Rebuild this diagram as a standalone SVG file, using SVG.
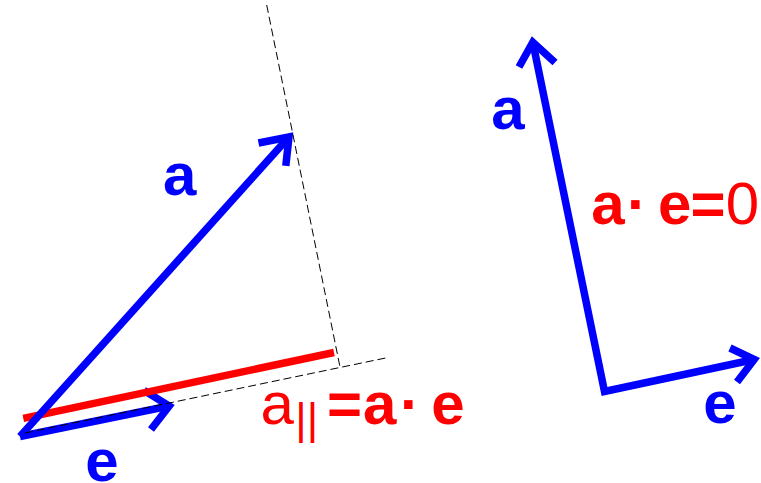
<svg xmlns="http://www.w3.org/2000/svg" width="761" height="483" viewBox="0 0 761 483">
  <style>
    .vec { fill: none; stroke: #0000FF; stroke-width: 7.5; stroke-linecap: butt; stroke-linejoin: miter; }
    .proj { fill: none; stroke: #FF0000; stroke-width: 7.5; stroke-linecap: butt; }
    .guide { fill: none; stroke: #000000; stroke-width: 1; stroke-dasharray: 8 4; }
    .lbl { font-family: "Liberation Sans", Arial, sans-serif; font-size: 60px; }
    .blue { fill: #0000FF; font-weight: bold; }
    .red { fill: #FF0000; }
    .b { font-weight: bold; }
  </style>
  <rect width="761" height="483" fill="#FFFFFF"/>

  <!-- Left figure -->
  <g id="left-e">
    <path class="vec" d="M20,436.5 L169.2,406"/>
    <polyline class="vec" points="143.9,390.4 169.2,406 151,429.5"/>
  </g>
  <g id="left-projection">
    <path class="proj" d="M23.3,418.3 L334,352.5"/>
  </g>
  <g id="left-a">
    <path class="vec" d="M20,436.5 L289,137"/>
    <polyline class="vec" points="258.5,143 289,137 285.8,165.8"/>
  </g>
  <g id="guides">
    <path class="guide" d="M25,433 L388,357.5"/>
    <path class="guide" d="M266.7,5 L340,367"/>
  </g>

  <!-- Right figure -->
  <g id="right-vectors">
    <path class="vec" d="M754.2,359.5 L604.5,391.5 L532.8,42.2"/>
    <polyline class="vec" points="519,67 532.8,42.2 555,62.5"/>
    <polyline class="vec" points="730,348 754.2,359.5 737,382"/>
  </g>

  <!-- Labels -->
  <g id="labels">
    <text class="lbl blue" x="179.7" y="194.5" text-anchor="middle">a</text>
    <text class="lbl blue" x="102" y="481" text-anchor="middle">e</text>
    <text class="lbl blue" x="508" y="128.8" text-anchor="middle">a</text>
    <text class="lbl blue" x="720" y="423" text-anchor="middle">e</text>
    <text class="lbl red" y="424"><tspan x="260.5">a</tspan><tspan x="295.3" y="433.7" font-size="44">||</tspan><tspan class="b" x="327" y="424">=</tspan><tspan class="b" x="363">a</tspan><tspan class="b" x="400">·</tspan><tspan class="b" x="431.2">e</tspan></text>
    <text class="lbl red" y="224"><tspan class="b" x="591.2">a</tspan><tspan class="b" x="627">·</tspan><tspan class="b" x="658">e</tspan><tspan class="b" x="690.4">=</tspan><tspan x="725.8">0</tspan></text>
  </g>
</svg>
